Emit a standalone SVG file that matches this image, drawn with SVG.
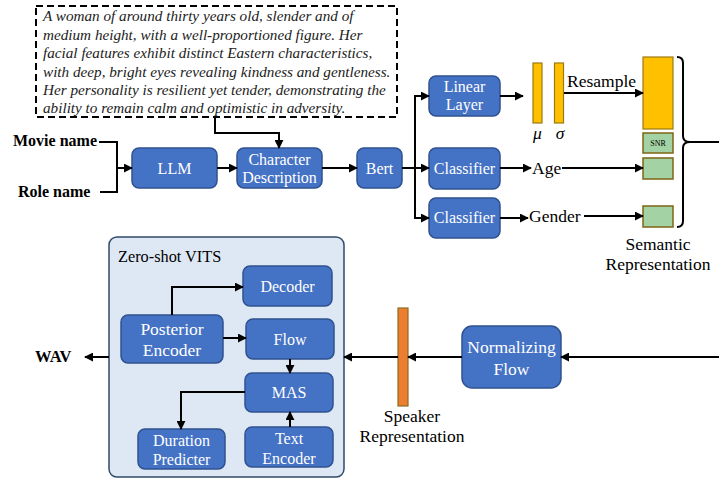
<svg xmlns="http://www.w3.org/2000/svg" width="719" height="479" viewBox="0 0 719 479" font-family="'Liberation Serif', serif">
<defs>
<marker id="ah" viewBox="0 0 10 10" refX="9" refY="5" markerWidth="4.5" markerHeight="4.5" orient="auto-start-reverse" markerUnits="strokeWidth"><path d="M0,0 L10,5 L0,10 z" fill="#000"/></marker>
<style>
.box{fill:#4472C4;stroke:#2F528F;stroke-width:1.5}
.bt{font-size:16px;fill:#fff;text-anchor:middle}
.bl{font-size:17.5px;fill:#fff;text-anchor:middle}
.t{font-size:17.5px;fill:#000}
.b{font-size:16px;font-weight:bold;fill:#000}
.it{font-size:15.2px;font-style:italic;fill:#222}
.ln{fill:none;stroke:#000;stroke-width:2}
.ar{fill:none;stroke:#000;stroke-width:2;marker-end:url(#ah)}
.yel{fill:#FFC000;stroke:#9C7A12;stroke-width:1.2}
.grn{fill:#A3D3A5;stroke:#7F6414;stroke-width:1.5}
</style>
</defs>
<rect width="719" height="479" fill="#fff"/>

<g id="description-text">
<rect x="36" y="6" width="361" height="111" fill="none" stroke="#000" stroke-width="2" stroke-dasharray="7,4"/>
<text font-family="'Liberation Serif', serif" class="it" x="43" y="21">A woman of around thirty years old, slender and of</text>
<text font-family="'Liberation Serif', serif" class="it" x="43" y="39.5">medium height, with a well-proportioned figure. Her</text>
<text font-family="'Liberation Serif', serif" class="it" x="43" y="58">facial features exhibit distinct Eastern characteristics,</text>
<text font-family="'Liberation Serif', serif" class="it" x="43" y="76.5">with deep, bright eyes revealing kindness and gentleness.</text>
<text font-family="'Liberation Serif', serif" class="it" x="43" y="95">Her personality is resilient yet tender, demonstrating the</text>
<text font-family="'Liberation Serif', serif" class="it" x="43" y="113">ability to remain calm and optimistic in adversity.</text>
</g>

<g id="inputs">
<text font-family="'Liberation Serif', serif" class="b" x="13" y="146">Movie name</text>
<text font-family="'Liberation Serif', serif" class="b" x="18" y="197">Role name</text>
</g>

<g id="llm"><rect class="box" x="132" y="148" width="85" height="40" rx="7"/><text font-family="'Liberation Serif', serif" class="bt" x="174.5" y="174">LLM</text></g>
<g id="char-desc"><rect class="box" x="237" y="148" width="85" height="40" rx="7"/><text font-family="'Liberation Serif', serif" class="bt" x="279.5" y="165">Character</text><text font-family="'Liberation Serif', serif" class="bt" x="279.5" y="183">Description</text></g>
<g id="bert"><rect class="box" x="357" y="148" width="45" height="40" rx="7"/><text font-family="'Liberation Serif', serif" class="bt" x="379.5" y="174">Bert</text></g>
<g id="linear"><rect class="box" x="429" y="76" width="71" height="40" rx="7"/><text font-family="'Liberation Serif', serif" class="bt" x="464.5" y="92">Linear</text><text font-family="'Liberation Serif', serif" class="bt" x="464.5" y="110">Layer</text></g>
<g id="classifier1"><rect class="box" x="429" y="148" width="71" height="41" rx="7"/><text font-family="'Liberation Serif', serif" class="bt" x="464.5" y="174">Classifier</text></g>
<g id="classifier2"><rect class="box" x="429" y="198" width="71" height="40" rx="7"/><text font-family="'Liberation Serif', serif" class="bt" x="464.5" y="223">Classifier</text></g>

<g id="mu-sigma">
<rect class="yel" x="533" y="63" width="9" height="60"/>
<rect class="yel" x="554.5" y="63" width="9" height="60"/>
<text font-family="'Liberation Serif', serif" class="t" x="537.5" y="139" font-style="italic" text-anchor="middle">μ</text>
<text font-family="'Liberation Serif', serif" class="t" x="560" y="139" font-style="italic" text-anchor="middle">σ</text>
</g>

<g id="semantic">
<rect class="yel" x="643" y="57" width="30" height="72"/>
<rect class="grn" x="643" y="133" width="30" height="20"/>
<text font-family="'Liberation Serif', serif" x="658" y="146" font-size="8" text-anchor="middle" fill="#000">SNR</text>
<rect class="grn" x="643" y="158" width="30" height="21"/>
<rect class="grn" x="643" y="206" width="30" height="21"/>
<text font-family="'Liberation Serif', serif" class="t" x="658" y="250" text-anchor="middle">Semantic</text>
<text font-family="'Liberation Serif', serif" class="t" x="658" y="270" text-anchor="middle">Representation</text>
</g>

<g id="labels">
<text font-family="'Liberation Serif', serif" class="t" x="567" y="87">Resample</text>
<text font-family="'Liberation Serif', serif" class="t" x="532" y="174">Age</text>
<text font-family="'Liberation Serif', serif" class="t" x="529" y="222">Gender</text>
</g>

<g id="vits">
<rect x="109" y="237" width="235" height="240" rx="8" fill="#DEE8F4" stroke="#2F4A6A" stroke-width="1.5"/>
<text font-family="'Liberation Serif', serif" x="118" y="262" font-size="16.3" fill="#000">Zero-shot VITS</text>
</g>
<g id="decoder"><rect class="box" x="243" y="266" width="89" height="40" rx="7"/><text font-family="'Liberation Serif', serif" class="bt" x="287.5" y="292">Decoder</text></g>
<g id="posterior"><rect class="box" x="121" y="315" width="102" height="48" rx="7"/><text font-family="'Liberation Serif', serif" class="bl" x="172" y="335">Posterior</text><text font-family="'Liberation Serif', serif" class="bl" x="172" y="356">Encoder</text></g>
<g id="flow"><rect class="box" x="246" y="319" width="88" height="40" rx="7"/><text font-family="'Liberation Serif', serif" class="bt" x="290" y="345">Flow</text></g>
<g id="mas"><rect class="box" x="245" y="373" width="88" height="39" rx="7"/><text font-family="'Liberation Serif', serif" class="bt" x="289" y="398">MAS</text></g>
<g id="duration"><rect class="box" x="138" y="429" width="87" height="40" rx="7"/><text font-family="'Liberation Serif', serif" class="bt" x="181.5" y="446">Duration</text><text font-family="'Liberation Serif', serif" class="bt" x="181.5" y="465">Predicter</text></g>
<g id="text-encoder"><rect class="box" x="245" y="427" width="88" height="40" rx="7"/><text font-family="'Liberation Serif', serif" class="bt" x="289" y="444">Text</text><text font-family="'Liberation Serif', serif" class="bt" x="289" y="464">Encoder</text></g>

<g id="normflow"><rect class="box" x="462" y="326" width="99" height="62" rx="10"/><text font-family="'Liberation Serif', serif" class="bl" x="511.5" y="353">Normalizing</text><text font-family="'Liberation Serif', serif" class="bl" x="511.5" y="375">Flow</text></g>

<g id="speaker">
<rect x="398" y="308" width="10" height="98" fill="#ED7D31" stroke="#8C6D1F" stroke-width="1.2"/>
<text font-family="'Liberation Serif', serif" class="t" x="412" y="422" text-anchor="middle">Speaker</text>
<text font-family="'Liberation Serif', serif" class="t" x="412" y="442" text-anchor="middle">Representation</text>
</g>

<g id="wav"><text font-family="'Liberation Serif', serif" class="b" x="35" y="362" style="font-size:16.5px">WAV</text></g>

<g id="connectors">
<path class="ln" d="M99,142 H117 V192 H100"/>
<path class="ar" d="M117,168 H132"/>
<path class="ar" d="M217,168 H237"/>
<path class="ar" d="M215,117 V133 H279 V148"/>
<path class="ar" d="M322,168 H357"/>
<path class="ln" d="M402,168 H415"/>
<path class="ar" d="M415,168 V96 H429"/>
<path class="ar" d="M415,168 H429"/>
<path class="ar" d="M415,168 V218 H429"/>
<path class="ar" d="M500,96 H523"/>
<path class="ar" d="M500,168 H531"/>
<path class="ar" d="M500,218 H528"/>
<path class="ar" d="M564,93 H643"/>
<path class="ar" d="M562,168 H643"/>
<path class="ar" d="M584,216 H643"/>
<path class="ln" d="M677,57 Q683,57 683,63 V136 Q683,142 690,142 Q683,142 683,148 V221 Q683,227 677,227"/>
<path class="ln" d="M690,142 H719"/>
<path class="ar" d="M719,357 H561"/>
<path class="ar" d="M462,357 H408"/>
<path class="ar" d="M398,357 H344"/>
<path class="ar" d="M109,357 H85"/>
<path class="ar" d="M172,315 V287 H243"/>
<path class="ar" d="M223,338 H246"/>
<path class="ar" d="M290,359 V373"/>
<path class="ar" d="M245,392 H181 V429"/>
<path class="ar" d="M290,427 V412"/>
</g>
</svg>
